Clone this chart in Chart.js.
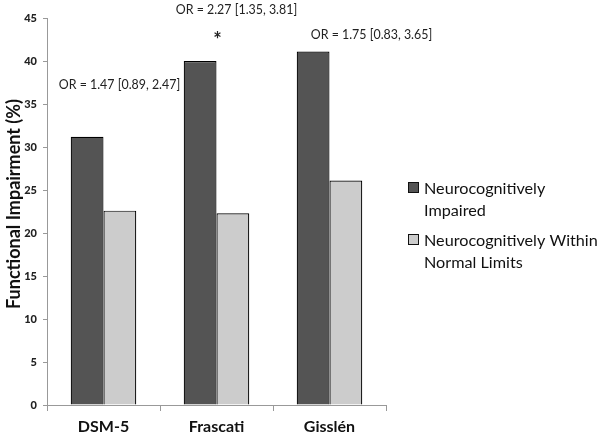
<!DOCTYPE html>
<html><head><meta charset="utf-8">
<script src="https://cdn.jsdelivr.net/npm/chart.js@4"></script>
<style>html,body{margin:0;padding:0;background:#fff}#wrap{width:604px;height:440px}</style>
</head><body><div id="wrap"><canvas id="c" width="604" height="440"></canvas></div>
<script>
const categories = ["DSM-5", "Frascati", "Gisslén"];
const impaired = [31.2, 40.0, 41.1];
const withinNormal = [22.6, 22.3, 26.1];
const seriesNames = [["Neurocognitively", "Impaired"], ["Neurocognitively Within", "Normal Limits"]];
const orLabels = ["OR = 1.47 [0.89, 2.47]", "OR = 2.27 [1.35, 3.81]", "OR = 1.75 [0.83, 3.65]"];
const orLabelValues = [37.2, 45.9, 43.0];
const sigMarks = ["", "*", ""];
const yTicks = [0, 5, 10, 15, 20, 25, 30, 35, 40, 45];
const yTitle = "Functional Impairment (%)";

const FONT = "Lato, 'Open Sans', sans-serif";
const OR_DX = [16, 20, 42];

const annot = {
  id: 'annot',
  afterDraw(chart) {
    const ctx = chart.ctx, x = chart.scales.x, y = chart.scales.y;
    ctx.save();
    ctx.fillStyle = '#222';
    ctx.textAlign = 'center';
    ctx.textBaseline = 'middle';
    ctx.font = "12.4px " + FONT;
    orLabels.forEach((t, i) => {
      const cx = x.getPixelForValue(i) + OR_DX[i];
      ctx.fillText(t, cx, y.getPixelForValue(orLabelValues[i]));
    });
    ctx.font = "bold 20px " + FONT;
    sigMarks.forEach((s, i) => {
      if (!s) return;
      const cx = x.getPixelForValue(i) + 1;
      ctx.fillText(s, cx, y.getPixelForValue(impaired[i]) - 20);
    });
    // y title
    ctx.save();
    ctx.translate(14, 204);
    ctx.rotate(-Math.PI / 2);
    ctx.fillStyle = '#111';
    ctx.font = "bold 18px " + FONT;
    ctx.fillText(yTitle, 0, 0);
    ctx.restore();
    // legend
    const ds = chart.data.datasets;
    ctx.textAlign = 'left';
    ctx.font = "16.2px " + FONT;
    let ly = 188;
    ds.forEach((d, i) => {
      ctx.fillStyle = d.backgroundColor;
      ctx.strokeStyle = '#111';
      ctx.lineWidth = 1;
      ctx.fillRect(408.5, ly - 5.5, 10, 10);
      ctx.strokeRect(408.5, ly - 5.5, 10, 10);
      ctx.fillStyle = '#111';
      seriesNames[i].forEach((line, k) => {
        ctx.fillText(line, 424, ly + 1 + k * 22);
      });
      ly += 52;
    });
    ctx.restore();
  }
};

new Chart(document.getElementById('c'), {
  type: 'bar',
  data: {
    labels: categories,
    datasets: [
      { label: seriesNames[0].join(' '), data: impaired, backgroundColor: '#545454', borderColor: '#000', borderWidth: 1.2, borderSkipped: 'start' },
      { label: seriesNames[1].join(' '), data: withinNormal, backgroundColor: '#cccccc', borderColor: '#000', borderWidth: 1.2, borderSkipped: 'start' }
    ]
  },
  options: {
    responsive: false,
    animation: false,
    events: [],
    layout: { padding: { left: 0, top: 18, right: 218, bottom: 0 } },
    plugins: { legend: { display: false }, tooltip: { enabled: false } },
    datasets: { bar: { categoryPercentage: 0.58, barPercentage: 1.0 } },
    scales: {
      x: {
        grid: { display: true, drawOnChartArea: false, offset: true, color: '#999', tickLength: 6 },
        border: { color: '#999' },
        ticks: { color: '#111', font: { family: FONT, size: 16, weight: 'bold' }, padding: 6 },
        afterFit(s) { s.height = 35; }
      },
      y: {
        min: 0, max: 45,
        afterBuildTicks(s) { s.ticks = yTicks.map(v => ({ value: v })); },
        grid: { display: true, drawOnChartArea: false, color: '#999', tickLength: 4 },
        border: { color: '#999' },
        ticks: { color: '#222', font: { family: FONT, size: 11, weight: '900' }, padding: 6 },
        title: { display: false },
        afterFit(s) { s.width = 47; }
      }
    }
  },
  plugins: [annot]
});
</script></body></html>
